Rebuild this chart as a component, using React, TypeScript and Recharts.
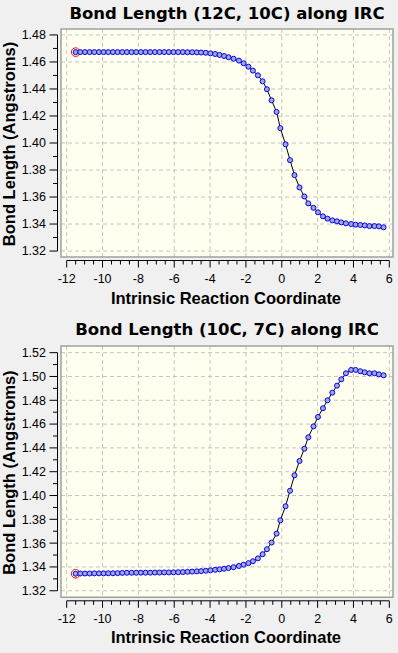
import React from "react";
import {
  LineChart,
  Line,
  XAxis,
  YAxis,
  CartesianGrid,
  ReferenceLine,
  ReferenceArea,
} from "recharts";

// IRC points shared by both panels
const ircCoord = [
  -11.5, -11.24, -10.98, -10.72, -10.46, -10.2, -9.94, -9.68, -9.42, -9.16,
  -8.9, -8.64, -8.38, -8.12, -7.86, -7.6, -7.34, -7.08, -6.82, -6.56, -6.3,
  -6.04, -5.78, -5.52, -5.26, -5.0, -4.74, -4.5, -4.24, -3.98, -3.72, -3.47,
  -3.22, -2.97, -2.69, -2.39, -2.13, -1.86, -1.61, -1.33, -1.07, -0.83, -0.57,
  -0.29, -0.08, 0.21, 0.46, 0.71, 0.99, 1.26, 1.48, 1.77, 2.02, 2.3, 2.55,
  2.82, 3.08, 3.32, 3.58, 3.87, 4.12, 4.38, 4.63, 4.89, 5.17, 5.42, 5.68,
];

const bond12C10C = [
  1.4673, 1.4673, 1.4673, 1.4673, 1.4673, 1.4673, 1.4673, 1.4673, 1.4673,
  1.4673, 1.4673, 1.4673, 1.4673, 1.4673, 1.4673, 1.4673, 1.4673, 1.4673,
  1.4673, 1.4673, 1.4673, 1.4673, 1.4673, 1.4673, 1.4672, 1.4672, 1.4671,
  1.467, 1.4668, 1.4664, 1.4659, 1.4652, 1.4644, 1.4635, 1.4624, 1.461,
  1.459, 1.4565, 1.4536, 1.4501, 1.4457, 1.4398, 1.4316, 1.423, 1.411, 1.399,
  1.3873, 1.3762, 1.3671, 1.3604, 1.3553, 1.352, 1.3487, 1.3457, 1.344,
  1.3427, 1.342, 1.3412, 1.3405, 1.34, 1.3395, 1.3393, 1.339, 1.3385, 1.3385,
  1.3383, 1.3376,
];

const bond10C7C = [
  1.3343, 1.3345, 1.3345, 1.3345, 1.3346, 1.3346, 1.3346, 1.3347, 1.3347,
  1.3348, 1.335, 1.3351, 1.3351, 1.3351, 1.3352, 1.3352, 1.3352, 1.3353,
  1.3353, 1.3354, 1.3354, 1.3355, 1.3356, 1.3357, 1.3359, 1.3361, 1.3363,
  1.3365, 1.3368, 1.3372, 1.3376, 1.338, 1.3385, 1.3391, 1.3398, 1.3408,
  1.3419, 1.3432, 1.3448, 1.3472, 1.3507, 1.3549, 1.3605, 1.368, 1.3792,
  1.391, 1.404, 1.417, 1.429, 1.4393, 1.4489, 1.4581, 1.466, 1.4733, 1.48,
  1.4864, 1.4923, 1.4976, 1.5027, 1.5055, 1.5055, 1.5044, 1.5035, 1.5027,
  1.5027, 1.5018, 1.501,
];

const xMajorTicks = [-12, -10, -8, -6, -4, -2, 0, 2, 4, 6];
const xAllTicks = [
  -12, -11.5, -11, -10.5, -10, -9.5, -9, -8.5, -8, -7.5, -7, -6.5, -6, -5.5,
  -5, -4.5, -4, -3.5, -3, -2.5, -2, -1.5, -1, -0.5, 0, 0.5, 1, 1.5, 2, 2.5, 3,
  3.5, 4, 4.5, 5, 5.5, 6,
];

const yMajorTop = [1.32, 1.34, 1.36, 1.38, 1.4, 1.42, 1.44, 1.46, 1.48];
const yAllTop = [
  1.32, 1.33, 1.34, 1.35, 1.36, 1.37, 1.38, 1.39, 1.4, 1.41, 1.42, 1.43, 1.44,
  1.45, 1.46, 1.47, 1.48,
];
const yMajorBottom = [
  1.32, 1.34, 1.36, 1.38, 1.4, 1.42, 1.44, 1.46, 1.48, 1.5, 1.52,
];
const yAllBottom = [
  1.32, 1.33, 1.34, 1.35, 1.36, 1.37, 1.38, 1.39, 1.4, 1.41, 1.42, 1.43, 1.44,
  1.45, 1.46, 1.47, 1.48, 1.49, 1.5, 1.51, 1.52,
];

const W = 398;
const PLOT_LEFT = 61;
const PLOT_RIGHT = 393;
const X_DOMAIN: [number, number] = [-12.318, 6.206];
const AXIS_GAP = 3.5;
const TICK_FONT = "'Liberation Sans', Arial, sans-serif";
const TITLE_FONT = "'DejaVu Sans', Verdana, sans-serif";
const AXIS_TITLE_FONT = "'Liberation Sans', Arial, sans-serif";

const isMajor = (v: number, list: number[]) =>
  list.some((m) => Math.abs(m - v) < 1e-6);

function XTick(props: any) {
  const { x, y, payload } = props;
  const v = payload.value as number;
  const major = isMajor(v, xMajorTicks);
  const y0 = y + AXIS_GAP;
  return (
    <g>
      <line x1={x} x2={x} y1={y0} y2={y0 + (major ? 7 : 4)} stroke="#000" />
      {major && (
        <text
          x={x}
          y={y0 + 22}
          textAnchor="middle"
          fontSize={12.5}
          fontFamily={TICK_FONT}
          fill="#000"
        >
          {v}
        </text>
      )}
    </g>
  );
}

function makeYTick(majors: number[]) {
  return function YTick(props: any) {
    const { x, y, payload } = props;
    const v = payload.value as number;
    const major = isMajor(v, majors);
    const x0 = x - AXIS_GAP;
    return (
      <g>
        <line x1={x0} x2={x0 - (major ? 8 : 4.5)} y1={y} y2={y} stroke="#000" />
        {major && (
          <text
            x={x0 - 11.5}
            y={y + 4.4}
            textAnchor="end"
            fontSize={12.5}
            fontFamily={TICK_FONT}
            fill="#000"
          >
            {v.toFixed(2)}
          </text>
        )}
      </g>
    );
  };
}

const renderDot = (props: any) => {
  const { cx, cy, index } = props;
  return (
    <g key={`d${index}`}>
      <circle cx={cx} cy={cy} r={2.5} fill="#a4a8c4" stroke="#0000ff" strokeWidth={1} />
      {index === 0 && (
        <circle cx={cx} cy={cy} r={4.3} fill="none" stroke="#ff0000" strokeWidth={1} />
      )}
    </g>
  );
};

type PanelProps = {
  title: string;
  values: number[];
  yTicks: number[];
  yMajor: number[];
  yDomain: [number, number];
  height: number;
  top: number;
  xAxisHeight: number;
  titleY: number;
  xTitleY: number;
};

function Panel({
  title,
  values,
  yTicks,
  yMajor,
  yDomain,
  height,
  top,
  xAxisHeight,
  titleY,
  xTitleY,
}: PanelProps) {
  const data = ircCoord.map((x, i) => ({ x, y: values[i] }));
  const plotW = PLOT_RIGHT - PLOT_LEFT;
  const plotH = height - top - xAxisHeight;
  const pxPerX = plotW / (X_DOMAIN[1] - X_DOMAIN[0]);
  const pxPerY = plotH / (yDomain[1] - yDomain[0]);
  const yAxisLineX = X_DOMAIN[0] - AXIS_GAP / pxPerX;
  const xAxisLineY = yDomain[0] - AXIS_GAP / pxPerY;
  const yLo = yTicks[0];
  const yHi = yTicks[yTicks.length - 1];
  const midX = (PLOT_LEFT + PLOT_RIGHT) / 2;
  const midY = top + plotH / 2 + 1;
  const YTick = React.useMemo(() => makeYTick(yMajor), [yMajor]);

  return (
    <LineChart
      width={W}
      height={height}
      data={data}
      margin={{ top, right: W - PLOT_RIGHT, bottom: 0, left: 0 }}
    >
      <CartesianGrid
        fill="#fffff0"
        stroke="#c4c4c4"
        strokeDasharray="4 3"
        horizontalValues={yMajor}
        verticalValues={xMajorTicks}
      />
      <ReferenceArea
        x1={X_DOMAIN[0]}
        x2={X_DOMAIN[1]}
        y1={yDomain[0]}
        y2={yDomain[1]}
        fill="none"
        stroke="#a0a0a0"
        strokeWidth={1.5}
        ifOverflow="visible"
      />
      <XAxis
        type="number"
        dataKey="x"
        domain={X_DOMAIN}
        ticks={xAllTicks}
        interval={0}
        height={xAxisHeight}
        axisLine={false}
        tickLine={false}
        tickSize={0}
        tickMargin={0}
        tick={<XTick />}
        allowDataOverflow
      />
      <YAxis
        type="number"
        domain={yDomain}
        ticks={yTicks}
        interval={0}
        width={PLOT_LEFT}
        axisLine={false}
        tickLine={false}
        tickSize={0}
        tickMargin={0}
        tick={<YTick />}
        allowDataOverflow
      />
      <ReferenceLine
        segment={[
          { x: yAxisLineX, y: yLo },
          { x: yAxisLineX, y: yHi },
        ]}
        stroke="#000"
        strokeWidth={1}
        ifOverflow="visible"
      />
      <ReferenceLine
        segment={[
          { x: xMajorTicks[0], y: xAxisLineY },
          { x: xMajorTicks[xMajorTicks.length - 1], y: xAxisLineY },
        ]}
        stroke="#000"
        strokeWidth={1}
        ifOverflow="visible"
      />
      <Line
        type="linear"
        dataKey="y"
        stroke="#000"
        strokeWidth={1}
        dot={renderDot}
        activeDot={false}
        isAnimationActive={false}
      />
      <text
        x={midX}
        y={titleY}
        textAnchor="middle"
        fontFamily={TITLE_FONT}
        fontWeight="bold"
        fontSize={16.5}
        fill="#000"
      >
        {title}
      </text>
      <text
        x={midX - 1}
        y={xTitleY}
        textAnchor="middle"
        fontFamily={AXIS_TITLE_FONT}
        fontWeight="bold"
        fontSize={16.5}
        fill="#000"
      >
        Intrinsic Reaction Coordinate
      </text>
      <text
        x={15}
        y={midY}
        transform={`rotate(-90 15 ${midY})`}
        textAnchor="middle"
        fontFamily={AXIS_TITLE_FONT}
        fontWeight="bold"
        fontSize={16.5}
        fill="#000"
      >
        Bond Length (Angstroms)
      </text>
    </LineChart>
  );
}

export default function App() {
  return (
    <div
      style={{
        position: "absolute",
        left: 0,
        top: 0,
        width: W,
        height: 653,
        background: "#f0f0f0",
      }}
    >
      <Panel
        title="Bond Length (12C, 10C) along IRC"
        values={bond12C10C}
        yTicks={yAllTop}
        yMajor={yMajorTop}
        yDomain={[1.3156, 1.4844]}
        height={310}
        top={29}
        xAxisHeight={53}
        titleY={18.5}
        xTitleY={304}
      />
      <Panel
        title="Bond Length (10C, 7C) along IRC"
        values={bond10C7C}
        yTicks={yAllBottom}
        yMajor={yMajorBottom}
        yDomain={[1.3145, 1.5256]}
        height={343}
        top={36}
        xAxisHeight={55.7}
        titleY={25}
        xTitleY={333.3}
      />
    </div>
  );
}
